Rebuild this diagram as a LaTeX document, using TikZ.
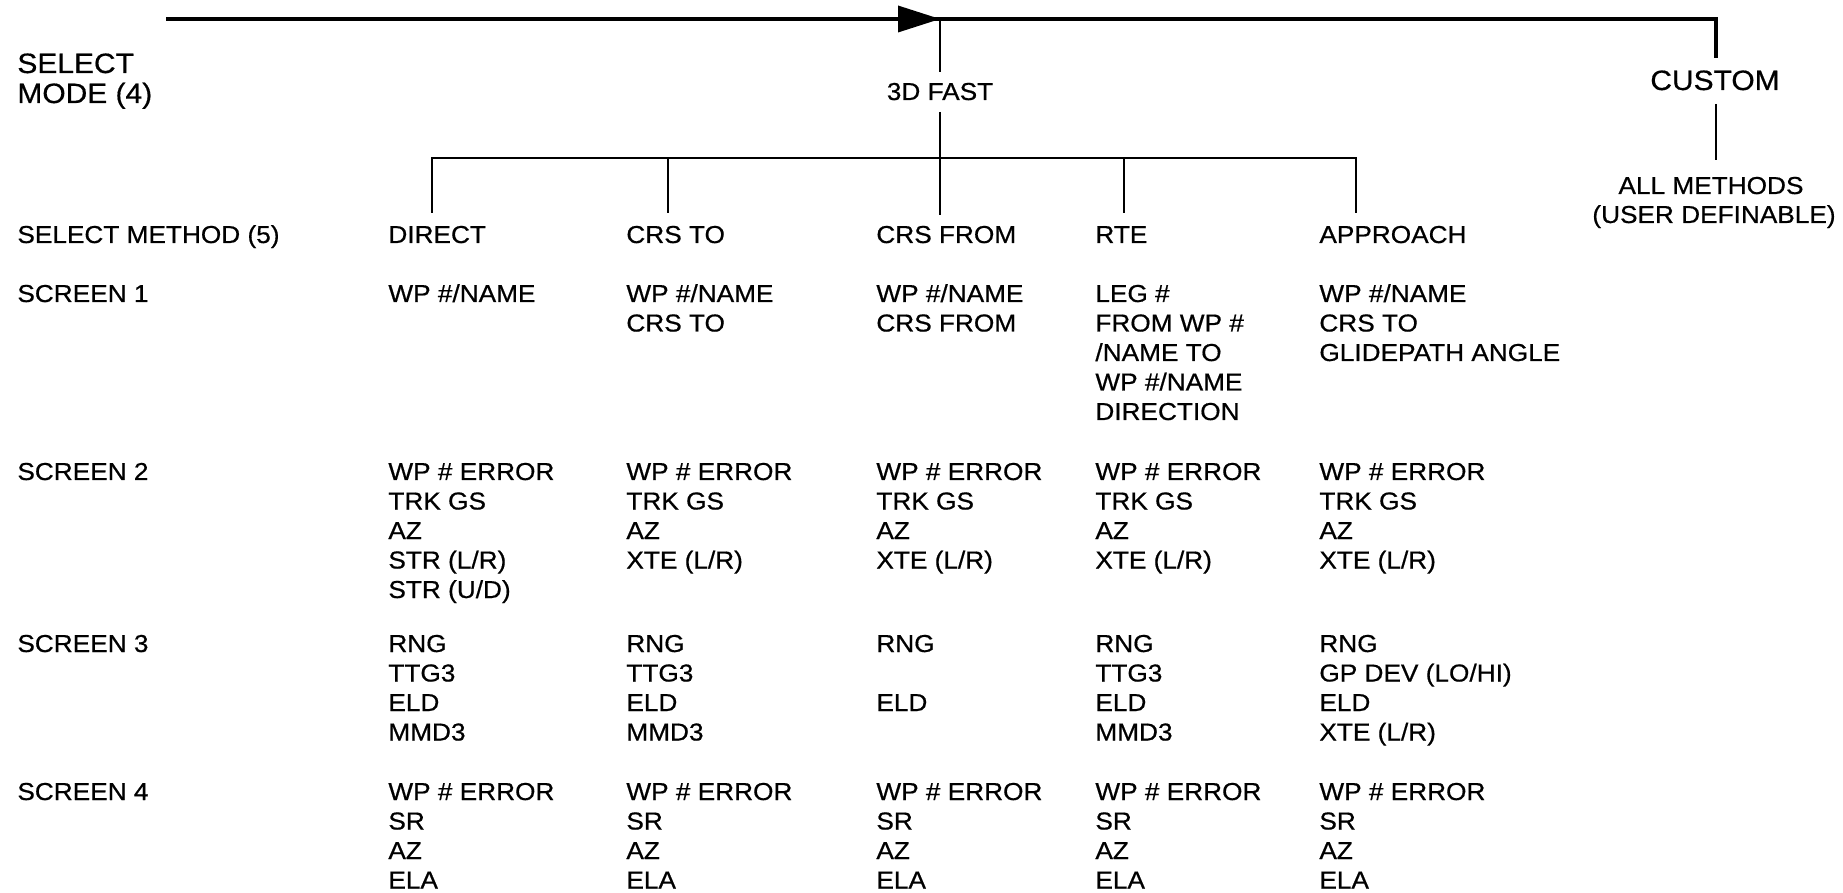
\documentclass[tikz,border=0pt]{standalone}
\usepackage{fontspec}
\setmainfont{Liberation Sans}[FakeStretch=1.07,FakeBold=0.6]
\newcommand\cellcol[4]{\foreach \t [count=\i] in {#4}{\node[txt] (#1-\i) at ({#2},{#3+(\i-1)*29.5}) {\t};}}
\begin{document}
\begin{tikzpicture}[x=0.5pt,y=-0.5pt,
  txt/.style={anchor=base west, inner sep=0pt, font=\fontsize{12.25}{14}\selectfont},
  ctr/.style={anchor=base, inner sep=0pt, font=\fontsize{12.25}{14}\selectfont},
  big/.style={font=\fontsize{14}{16}\selectfont},
  conn/.style={line width=1.4pt}]
\useasboundingbox (0,0) rectangle (1843,893);

% ---- mode level
\node[txt,big] (selA) at (17,73) {SELECT};
\node[txt,big] (selB) at (17,103) {MODE (4)};
\node[ctr] (fast) at (940,100) {3D FAST};
\node[ctr,big] (custom) at (1715,90) {CUSTOM};
\node[ctr] (allA) at (1711,194) {ALL METHODS};
\node[ctr] (allB) at (1714,223) {(USER DEFINABLE)};

% ---- connector points
\coordinate (start) at (166,19);
\coordinate (tip) at (940,19);
\coordinate (corner) at (1716,19);
\coordinate (customTop) at (1716,58);
\coordinate (fastTop) at (940,72);
\coordinate (fastBot) at (940,112);
\coordinate (fromEnd) at (940,215);
\coordinate (customBot) at (1716,104);
\coordinate (allTop) at (1716,160);
\coordinate (barL) at (432,158);
\coordinate (barR) at (1356,158);
\coordinate (dDirect) at (432,213);
\coordinate (jCrsTo) at (668,158);
\coordinate (dCrsTo) at (668,213);
\coordinate (jRte) at (1124,158);
\coordinate (dRte) at (1124,213);
\coordinate (dAppr) at (1356,213);

\draw[conn,line width=1.7pt] (start) -- (corner) -- (customTop);
\fill (898,5.5) -- (tip) -- (898,32.5) -- cycle;
\draw[conn] (tip) -- (fastTop);
\draw[conn] (fastBot) -- (fromEnd);
\draw[conn] (customBot) -- (allTop);
\draw[conn] (dDirect) -- (barL) -- (barR) -- (dAppr);
\draw[conn] (jCrsTo) -- (dCrsTo);
\draw[conn] (jRte) -- (dRte);

% ---- row labels
\cellcol{lab0}{17}{243}{SELECT METHOD (5)}
\cellcol{lab1}{17}{302}{SCREEN 1}
\cellcol{lab2}{17}{480}{SCREEN 2}
\cellcol{lab3}{17}{652}{SCREEN 3}
\cellcol{lab4}{17}{800}{SCREEN 4}

% ---- DIRECT
\cellcol{di0}{388}{243}{DIRECT}
\cellcol{di1}{388}{302}{WP \#/NAME}
\cellcol{di2}{388}{480}{WP \# ERROR,TRK GS,AZ,STR (L/R),STR (U/D)}
\cellcol{di3}{388}{652}{RNG,TTG3,ELD,MMD3}
\cellcol{di4}{388}{800}{WP \# ERROR,SR,AZ,ELA}

% ---- CRS TO
\cellcol{ct0}{626}{243}{CRS TO}
\cellcol{ct1}{626}{302}{WP \#/NAME,CRS TO}
\cellcol{ct2}{626}{480}{WP \# ERROR,TRK GS,AZ,XTE (L/R)}
\cellcol{ct3}{626}{652}{RNG,TTG3,ELD,MMD3}
\cellcol{ct4}{626}{800}{WP \# ERROR,SR,AZ,ELA}

% ---- CRS FROM
\cellcol{cf0}{876}{243}{CRS FROM}
\cellcol{cf1}{876}{302}{WP \#/NAME,CRS FROM}
\cellcol{cf2}{876}{480}{WP \# ERROR,TRK GS,AZ,XTE (L/R)}
\cellcol{cf3}{876}{652}{RNG}
\cellcol{cf3b}{876}{711}{ELD}
\cellcol{cf4}{876}{800}{WP \# ERROR,SR,AZ,ELA}

% ---- RTE
\cellcol{rt0}{1095}{243}{RTE}
\cellcol{rt1}{1095}{302}{LEG \#,FROM WP \#,/NAME TO,WP \#/NAME,DIRECTION}
\cellcol{rt2}{1095}{480}{WP \# ERROR,TRK GS,AZ,XTE (L/R)}
\cellcol{rt3}{1095}{652}{RNG,TTG3,ELD,MMD3}
\cellcol{rt4}{1095}{800}{WP \# ERROR,SR,AZ,ELA}

% ---- APPROACH
\cellcol{ap0}{1319}{243}{APPROACH}
\cellcol{ap1}{1319}{302}{WP \#/NAME,CRS TO,GLIDEPATH ANGLE}
\cellcol{ap2}{1319}{480}{WP \# ERROR,TRK GS,AZ,XTE (L/R)}
\cellcol{ap3}{1319}{652}{RNG,GP DEV (LO/HI),ELD,XTE (L/R)}
\cellcol{ap4}{1319}{800}{WP \# ERROR,SR,AZ,ELA}
\end{tikzpicture}
\end{document}
